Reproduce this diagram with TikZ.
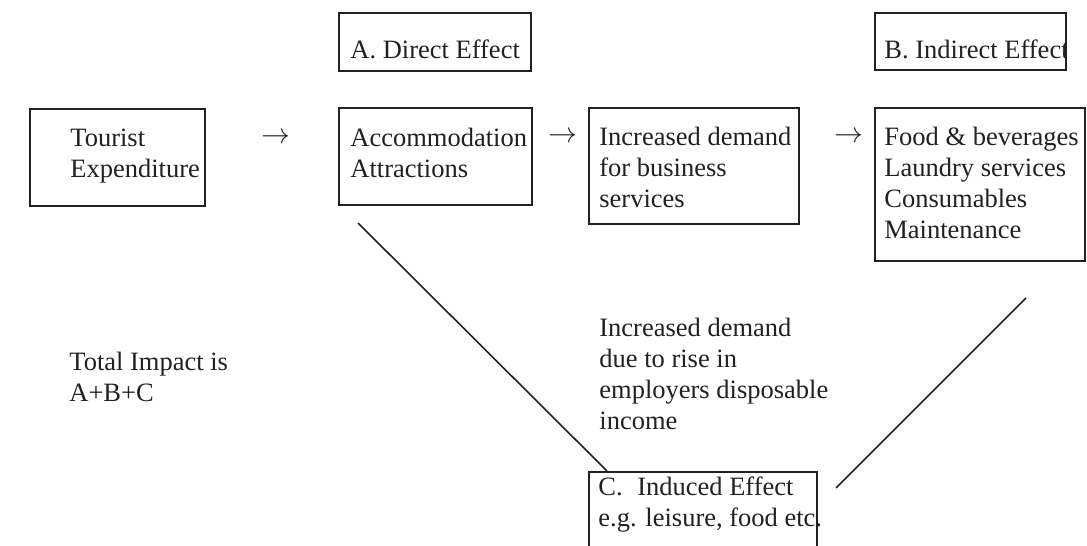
\documentclass[tikz,border=0pt]{standalone}
\usepackage{fontspec}
\setmainfont{Liberation Serif}
\usepackage{tikz}

\definecolor{ink}{rgb}{0.13,0.13,0.13}

\begin{document}
\begin{tikzpicture}[x=0.5pt,y=-0.5pt,
    box/.style={draw=ink,line width=0.8pt,anchor=north west,inner sep=0pt},
    txt/.style={anchor=base west,align=left,inner sep=0pt,text=ink,
      font=\fontsize{13.25}{15.5}\selectfont},
    sign/.style={inner sep=0pt,text=ink,font=\fontsize{13.25}{15.5}\selectfont},
    link/.style={draw=ink,line width=0.8pt}]
  \clip (0,0) rectangle (1087,546);
  % the effect headings (text cut off at the box edge)
  \node (adir) at (338,12) [box,minimum width=96pt,minimum height=29pt] {};
  \node (bind) at (874,12) [box,minimum width=95.5pt,minimum height=28.5pt] {};
  \begin{scope}
    \clip (adir.north west) rectangle (adir.south east);
    \node (adirtext) at (350,58) [txt] {A. Direct Effect};
  \end{scope}
  \begin{scope}
    \clip (bind.north west) rectangle (bind.south east);
    \node (bindtext) at (884,58) [txt] {B. Indirect Effect};
  \end{scope}
  % the chain of boxes (base is the last line)
  \node (tour) at (29,108) [box,minimum width=87.5pt,minimum height=48.5pt] {};
  \node (acc) at (338,107) [box,minimum width=96.5pt,minimum height=48.5pt] {};
  \node (busi) at (588,107) [box,minimum width=105pt,minimum height=58pt] {};
  \node (food) at (874,107) [box,minimum width=105pt,minimum height=76.5pt] {};
  \node (tourtext) at (70,177) [txt] {Tourist\\Expenditure};
  \node (acctext) at (350,177) [txt] {Accommodation\\Attractions};
  \node (busitext) at (599,207) [txt] {Increased demand\\for business\\services};
  \node (foodtext) at (884,238) [txt] {Food \& beverages\\Laundry services\\Consumables\\Maintenance};
  \node (sign1) at (276,138) [sign] {$\rightarrow$};
  \node (sign2) at (563,137) [sign] {$\rightarrow$};
  \node (sign3) at (849,137) [sign] {$\rightarrow$};
  % the induced effect
  \node (ind) at (588,471) [box,minimum width=114pt,minimum height=50pt] {};
  \node (indtext) at (598,526) [txt] {C.\hspace{0.55em}Induced Effect\\e.g. leisure, food etc.};
  \node (rise) at (599,429) [txt] {Increased demand\\due to rise in\\employers disposable\\income};
  \node (total) at (69,401) [txt] {Total Impact is\\A+B+C};
  \coordinate (dstart) at (358,223);
  \coordinate (istart) at (836,488);
  \coordinate (iend) at (1026,298);
  \draw[link] (dstart) -- ([xshift=9.5pt]ind.north west);
  \draw[link] (istart) -- (iend);
\end{tikzpicture}
\end{document}
